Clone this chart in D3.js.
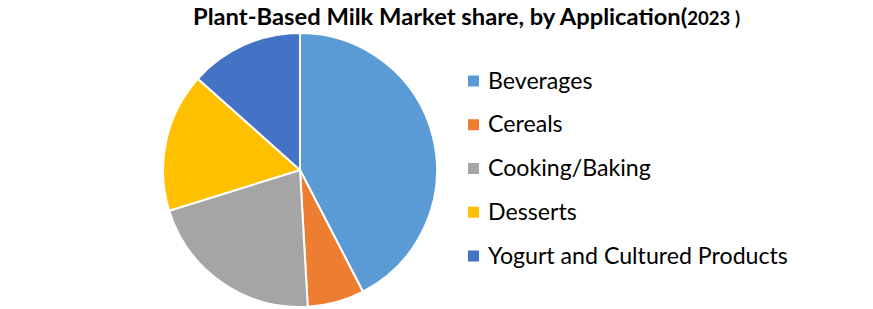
<!DOCTYPE html>
<html><head><meta charset="utf-8">
<script src="https://cdn.jsdelivr.net/npm/d3@7"></script>
<style>body{margin:0;background:#fff}svg{display:block}</style>
</head><body>
<svg id="c" width="873" height="309"></svg>
<script>
const categories = ["Beverages","Cereals","Cooking/Baking","Desserts","Yogurt and Cultured Products"];
const values = [42.4, 6.7, 21.1, 16.4, 13.4];
const colors = ["#5B9BD5","#ED7D31","#A5A5A5","#FFC000","#4472C4"];
const titleMain = "Plant-Based Milk Market share, by Application(";
const titleYear = "2023 )";

const svg = d3.select("#c");
const font = "Lato, 'Open Sans', sans-serif";
const cx = 300, cy = 170, r = 137;

const pie = d3.pie().sort(null).value(d => d)(values);
const arc = d3.arc().innerRadius(0).outerRadius(r);
const color = d3.scaleOrdinal().domain(categories).range(colors);

svg.append("g").attr("transform", `translate(${cx},${cy})`)
  .selectAll("path").data(pie).join("path")
  .attr("d", arc)
  .attr("fill", (d,i) => color(categories[i]))
  .attr("stroke", "#fff").attr("stroke-width", 2).attr("stroke-linejoin","round");

// title
const t = svg.append("text").attr("x", 193).attr("y", 25)
  .attr("font-family", font).attr("font-weight", "bold").attr("fill", "#000");
t.append("tspan").attr("font-size", 23).text(titleMain);
t.append("tspan").attr("font-size", 18).text(titleYear);
t.attr("textLength", 547).attr("lengthAdjust", "spacingAndGlyphs");

// legend
const ly = d3.scalePoint().domain(categories).range([81, 256]);
const lg = svg.append("g").selectAll("g").data(categories).join("g")
  .attr("transform", d => `translate(468,${ly(d)})`);
lg.append("rect").attr("x", 0).attr("y", -5.5).attr("width", 11).attr("height", 11)
  .attr("fill", d => color(d));
lg.append("text").attr("x", 20).attr("y", 7.5)
  .attr("font-family", font).attr("font-size", 21).attr("fill", "#000")
  .text(d => d)
  .each(function(d){
    if (d === categories[4]) {
      const w = this.getComputedTextLength();
      const s = 300 / w;
      lg.selectAll("text").attr("font-size", 21 * s);
    }
  });
</script>
</body></html>
